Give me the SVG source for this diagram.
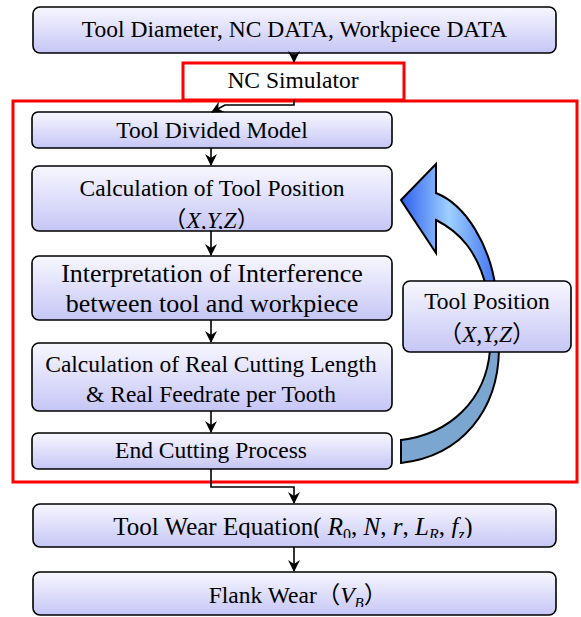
<svg xmlns="http://www.w3.org/2000/svg" width="581" height="617" viewBox="0 0 581 617">
<defs>
<linearGradient id="boxg" x1="0" y1="0" x2="0" y2="1">
<stop offset="0" stop-color="#f7f7ff"/>
<stop offset="1" stop-color="#c6c6f6"/>
</linearGradient>
<linearGradient id="blueg" x1="401" y1="0" x2="497" y2="0" gradientUnits="userSpaceOnUse">
<stop offset="0" stop-color="#2f5ff0"/>
<stop offset="0.5" stop-color="#9fd0ff"/>
<stop offset="1" stop-color="#3f72f0"/>
</linearGradient>
<marker id="ah" viewBox="0 0 12 12" refX="11" refY="6" markerWidth="12" markerHeight="12" markerUnits="userSpaceOnUse" orient="auto">
<path d="M0,0 L12,6 L0,12 L4,6 Z" fill="#000"/>
</marker>
<clipPath id="clipCalc"><rect x="32" y="166" width="360" height="63"/></clipPath>
<clipPath id="clipWear"><rect x="33" y="504" width="523" height="34"/></clipPath>
<clipPath id="clipFlank"><rect x="33" y="572" width="523" height="35"/></clipPath>
</defs>
<style>
.box{fill:url(#boxg);stroke:#000;stroke-width:1.6}
.red{fill:none;stroke:#ff0000;stroke-width:3}
.t{font-size:23.5px;fill:#000;text-anchor:middle}
.big{font-size:26px}
.i{font-style:italic}
.conn{fill:none;stroke:#000;stroke-width:1.6}
</style>

<g id="ncsim-frame">
<rect class="red" x="13" y="101" width="564" height="381"/>
</g>

<g font-family="Liberation Serif, Tinos, Times New Roman, Noto Serif, DejaVu Serif, serif">

<g id="input">
<rect class="box" x="33" y="7" width="523" height="46" rx="7"/>
<text class="t" x="294.5" y="37">Tool Diameter, NC DATA, Workpiece DATA</text>
</g>

<g id="nc-simulator">
<rect x="183" y="63" width="221" height="37" fill="#fff" stroke="#ff0000" stroke-width="3"/>
<text class="t" x="293" y="88">NC Simulator</text>
</g>

<g id="tool-divided-model">
<rect class="box" x="32" y="112" width="360" height="36" rx="6"/>
<text class="t" x="212" y="138">Tool Divided Model</text>
</g>

<g id="calc-tool-position">
<rect class="box" x="32" y="166" width="360" height="65" rx="7"/>
<text class="t" x="212" y="196">Calculation of Tool Position</text>
<text class="t" x="211.5" y="228" clip-path="url(#clipCalc)"><tspan font-family="Noto Sans CJK SC, sans-serif">（</tspan><tspan class="i">X,Y,Z</tspan><tspan font-family="Noto Sans CJK SC, sans-serif">）</tspan></text>
</g>

<g id="interference">
<rect class="box" x="32" y="256" width="360" height="64" rx="7"/>
<text class="t big" x="212" y="282">Interpretation of Interference</text>
<text class="t big" x="212" y="312">between tool and workpiece</text>
</g>

<g id="calc-real">
<rect class="box" x="32" y="343" width="360" height="68" rx="7"/>
<text class="t" x="211" y="372">Calculation of Real Cutting Length</text>
<text class="t" x="211" y="402">&amp; Real Feedrate per Tooth</text>
</g>

<g id="end-cutting">
<rect class="box" x="32" y="433" width="360" height="36" rx="6"/>
<text class="t" x="211" y="458">End Cutting Process</text>
</g>

<g id="loop-arrow">
<path d="M490,350 L499,350 C498,410 462,456 401,463 L401,440 C450,434 486,400 490,350 Z" fill="#7aa6cf" stroke="#000" stroke-width="2"/>
<path d="M401,200 L436,164 L436,193 C466,205 490,245 496,290 L487,290 C478,252 460,232 436,220 L436,253 Z" fill="url(#blueg)" stroke="#000" stroke-width="2" stroke-linejoin="miter"/>
</g>

<g id="tool-position">
<rect class="box" x="403" y="281" width="168" height="71" rx="7"/>
<text class="t" x="487" y="309">Tool Position</text>
<text class="t" x="487" y="342"><tspan font-family="Noto Sans CJK SC, sans-serif">（</tspan><tspan class="i">X,Y,Z</tspan><tspan font-family="Noto Sans CJK SC, sans-serif">）</tspan></text>
</g>

<g id="tool-wear-equation">
<rect class="box" x="33" y="504" width="523" height="43" rx="7"/>
<text class="t" x="293" y="535" font-size="25" style="font-size:25px" clip-path="url(#clipWear)">Tool Wear Equation( <tspan class="i">R</tspan><tspan font-size="16" dy="5">0</tspan><tspan dy="-5">,  </tspan><tspan class="i">N</tspan>,  <tspan class="i">r</tspan>,  <tspan class="i">L</tspan><tspan font-size="16" class="i" dy="5">R</tspan><tspan dy="-5">,  </tspan><tspan class="i">f</tspan><tspan font-size="16" class="i" dy="5">z</tspan><tspan dy="-5">)</tspan></text>
</g>

<g id="flank-wear">
<rect class="box" x="33" y="572" width="523" height="43" rx="7"/>
<text class="t" x="298" y="603" clip-path="url(#clipFlank)">Flank Wear<tspan font-family="Noto Sans CJK SC, sans-serif">（</tspan><tspan class="i">V</tspan><tspan class="i" font-size="15" dy="5">B</tspan><tspan font-family="Noto Sans CJK SC, sans-serif" dy="-5">）</tspan></text>
</g>

</g>

<g id="connectors">
<path class="conn" d="M294,53 V62" marker-end="url(#ah)"/>
<path class="conn" d="M294,100 V105 H225 L212,112" marker-end="url(#ah)"/>
<path class="conn" d="M211,148 V165" marker-end="url(#ah)"/>
<path class="conn" d="M211,231 V255" marker-end="url(#ah)"/>
<path class="conn" d="M211,320 V342" marker-end="url(#ah)"/>
<path class="conn" d="M211,411 V432" marker-end="url(#ah)"/>
<path class="conn" d="M211,469 V487 H294 V503" marker-end="url(#ah)"/>
<path class="conn" d="M294,547 V571" marker-end="url(#ah)"/>
</g>
</svg>
